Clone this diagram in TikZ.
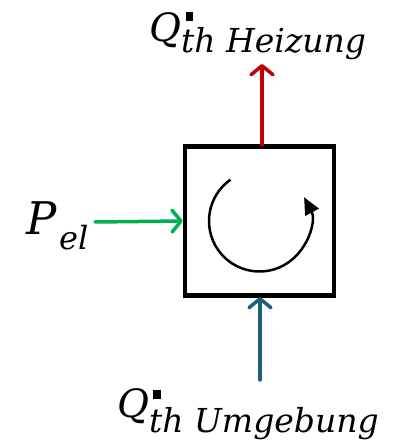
\documentclass[tikz,border=0pt]{standalone}
\usepackage{fontspec}
\setmainfont{DejaVu Serif}
\usetikzlibrary{arrows.meta}
\definecolor{heizred}{RGB}{192,0,0}
\definecolor{elgreen}{RGB}{0,176,80}
\definecolor{umgblue}{RGB}{31,94,124}
\tikzset{
  flow/.style={line width=3.5pt, line cap=round, -{Straight Barb[length=9pt,width=22pt,line cap=round,line join=round]}},
  lbl/.style={inner sep=0pt, anchor=base west, font=\itshape},
}
\begin{document}
\begin{tikzpicture}[x=1pt,y=1pt]
\useasboundingbox (0,0) rectangle (415,440);
% box
\node[draw, line width=4.5pt, minimum size=149pt, inner sep=0pt] (box) at (259.5,219) {};
% cycle arc
\draw[line width=2.5pt, -{Triangle[length=17pt,width=15pt]}] (box.center) ++(125:50.5) arc[start angle=125, end angle=388, radius=50.5];
% arrows
\coordinate (heiztip) at (262,376);
\coordinate (heizbase) at (262,295);
\draw[flow, heizred] (heizbase) -- (heiztip);
\coordinate (elstart) at (95,218);
\draw[flow, elgreen] (elstart) -- (box.west);
\coordinate (umgstart) at (260,60);
\coordinate (umgtip) at (260,143);
\draw[flow, umgblue] (umgstart) -- (umgtip);
% labels
\node[lbl, font=\fontsize{39}{42}\selectfont\itshape] (qtop) at (149,398) {Q};
\fill (186,419) rectangle (193,428);
\node[lbl, font=\fontsize{33}{36}\selectfont\itshape] (subtop) at (181,387) {th Heizung};
\node[lbl, font=\fontsize{39}{42}\selectfont\itshape] (qbot) at (117,23) {Q};
\fill (153,41) rectangle (161,50);
\node[lbl, font=\fontsize{33}{36}\selectfont\itshape] (subbot) at (149,8) {th Umgebung};
\node[lbl, font=\fontsize{45}{48}\selectfont\itshape] (pel) at (26,205) {P};
\node[lbl, font=\fontsize{32}{34}\selectfont\itshape] (elsub) at (59,190) {el};
\end{tikzpicture}
\end{document}
